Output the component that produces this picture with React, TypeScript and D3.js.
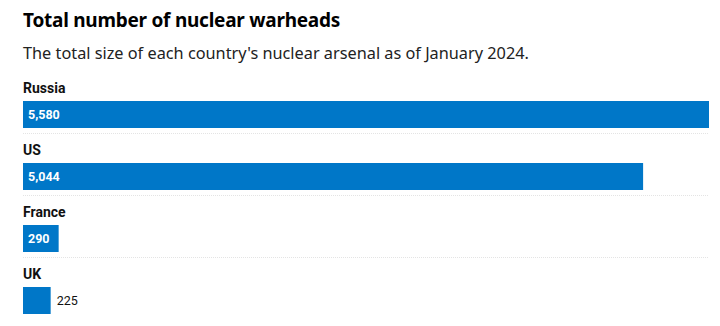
import React from "react";
import * as d3 from "d3";

const countries = ["Russia", "US", "France", "UK"];
const warheads = [5580, 5044, 290, 225];
const valueLabels = ["5,580", "5,044", "290", "225"];

const W = 720;
const H = 326;
const FONT = "Roboto, 'Noto Sans', sans-serif";
const HEAD_FONT = "'Noto Sans', Roboto, sans-serif";

export default function App() {
  const x = d3.scaleLinear().domain([0, d3.max(warheads) as number]).range([23, 709]);
  const rowTop = 70;
  const rowH = 62;
  const y = (i: number) => rowTop + i * rowH;
  return (
    <svg width={W} height={H} style={{ position: "absolute", left: 0, top: 0, background: "#fff" }} fontFamily={FONT}>
      <text x={23} y={27} fontSize={19} fontWeight={700} fill="#000" fontFamily={HEAD_FONT} letterSpacing={-0.25}>
        Total number of nuclear warheads
      </text>
      <text x={23} y={59} fontSize={16.3} fill="#222" fontFamily={HEAD_FONT}>
        The total size of each country's nuclear arsenal as of January 2024.
      </text>
      {countries.map((c, i) => {
        const top = y(i);
        const barY = top + 31;
        const barH = 27;
        const w = x(warheads[i]) - x(0);
        const inside = w > 34;
        return (
          <g key={c}>
            <text x={23} y={top + 23} fontSize={14} fontWeight={700} fill="#111">
              {c}
            </text>
            <rect x={x(0)} y={barY} width={w} height={barH} fill="#0077c8" />
            <text
              x={inside ? x(0) + 5 : x(warheads[i]) + 6}
              y={barY + barH / 2 + 4.5}
              fontSize={12.5}
              fontWeight={inside ? 700 : 400}
              fill={inside ? "#fff" : "#111"}
            >
              {valueLabels[i]}
            </text>
            {i < countries.length - 1 && (
              <line x1={23} x2={709} y1={top + 63.5} y2={top + 63.5} stroke="#e4e4e4" strokeWidth={1} strokeDasharray="1,1" />
            )}
          </g>
        );
      })}
    </svg>
  );
}
